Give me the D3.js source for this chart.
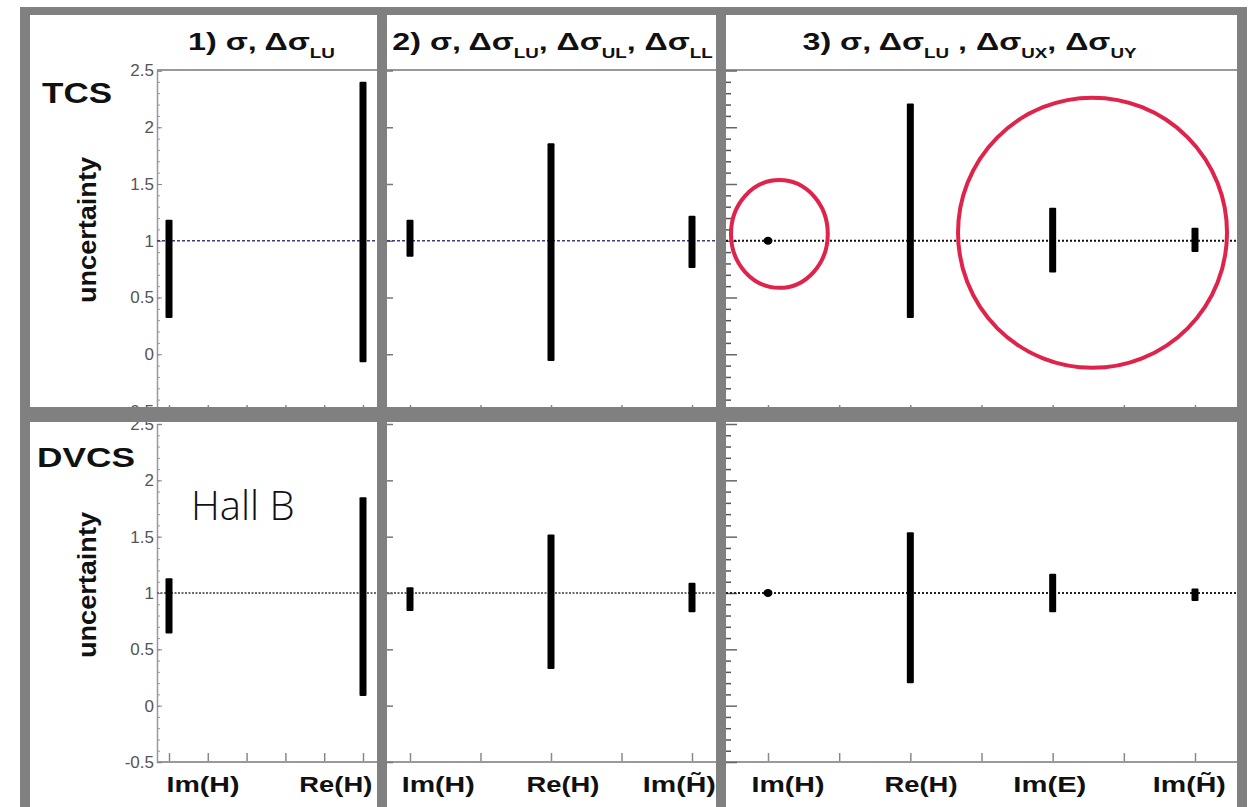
<!DOCTYPE html>
<html>
<head>
<meta charset="utf-8">
<script src="https://cdn.jsdelivr.net/npm/d3@7"></script>
<style>
body { margin: 0; background: #fff; }
svg { display: block; }
text { font-family: "Liberation Sans", Arial, sans-serif; }
</style>
</head>
<body>
<svg id="chart" width="1250" height="807"></svg>
<script>
// categories per panel
var cats1 = ['Im(H)', 'Re(H)'];
var cats2 = ['Im(H)', 'Re(H)', 'Im(H\u0303)'];
var cats3 = ['Im(H)', 'Re(H)', 'Im(E)', 'Im(H\u0303)'];

// TCS: lower / upper end of each uncertainty bar
var tcsLow1 = [0.32, -0.07], tcsHigh1 = [1.185, 2.40];
var tcsLow2 = [0.86, -0.06, 0.76], tcsHigh2 = [1.185, 1.86, 1.22];
var tcsLow3 = [0.99, 0.32, 0.72, 0.90], tcsHigh3 = [1.01, 2.21, 1.29, 1.115];

// DVCS (Hall B)
var dvcsLow1 = [0.64, 0.085], dvcsHigh1 = [1.13, 1.85];
var dvcsLow2 = [0.84, 0.325, 0.83], dvcsHigh2 = [1.05, 1.52, 1.09];
var dvcsLow3 = [0.99, 0.20, 0.83, 0.93], dvcsHigh3 = [1.01, 1.54, 1.17, 1.04];

var yTicks = [-0.5, 0, 0.5, 1, 1.5, 2, 2.5];

// where the category names sit along each axis (in category units)
var labelPos1 = [0.175, 0.86];
var labelPos2 = [0.2, 1.085, 1.91];
var labelPos3 = [0.14, 1.075, 1.98, 2.96];

// panel titles: [text, subscript] pieces
var title1 = [['1) \u03c3, \u0394\u03c3', 'LU']];
var title2 = [['2) \u03c3, \u0394\u03c3', 'LU'], [', \u0394\u03c3', 'UL'], [', \u0394\u03c3', 'LL']];
var title3 = [['3) \u03c3, \u0394\u03c3', 'LU'], [' , \u0394\u03c3', 'UX'], [', \u0394\u03c3', 'UY']];

// red circles in panel 3 (TCS), in data units
var circles = [
  {cx: 0.08, cy: 1.06, rx: 0.34, ry: 0.475},
  {cx: 2.28, cy: 1.07, rx: 0.945, ry: 1.19}
];

var svg = d3.select('#chart');
svg.append('rect').attr('width', 1250).attr('height', 807).attr('fill', '#fff');

var grey = '#808080';

var panels = [
  {cats: cats1, left: 157, right: 377, domain: [0, 1], range: [169, 363], ticks: d3.range(0, 1.01, 0.2), labels: labelPos1, title: title1, tx: 261.5, tw: 147, yaxis: 'labels'},
  {cats: cats2, left: 387, right: 716, domain: [0, 2], range: [410, 692], ticks: d3.range(0, 2.01, 0.5), labels: labelPos2, title: title2, tx: 552.5, tw: 321, yaxis: 'major'},
  {cats: cats3, left: 726, right: 1237, domain: [0, 3], range: [768, 1195], ticks: d3.range(0, 3.01, 0.5), labels: labelPos3, title: title3, tx: 969.5, tw: 335, yaxis: 'minor'}
];
panels.forEach(function(p) {
  p.x = d3.scaleLinear().domain(p.domain).range(p.range);
});

var rows = [
  {name: 'TCS', y: d3.scaleLinear().domain([-0.5, 2.5]).range([411, 70.5]),
   low: [tcsLow1, tcsLow2, tcsLow3], high: [tcsHigh1, tcsHigh2, tcsHigh3],
   refColor: ['#3c3c78', '#3c3c78', '#111'], refDash: ['3,2', '3,2', '2,2'], refWidth: [1.5, 1.5, 2],
   top: 70, bottom: 411, xlabels: false},
  {name: 'DVCS', y: d3.scaleLinear().domain([-0.5, 2.5]).range([762, 424]),
   low: [dvcsLow1, dvcsLow2, dvcsLow3], high: [dvcsHigh1, dvcsHigh2, dvcsHigh3],
   refColor: ['#6a6a6a', '#6a6a6a', '#222'], refDash: ['2,1.5', '2,1.5', '2,2'], refWidth: [2, 2, 2],
   top: 422, bottom: 762, xlabels: true}
];

// stretch a text group horizontally so it fills a given width
function fit(g, cx, w) {
  var bb = g.node().getBBox();
  g.attr('transform', 'translate(' + cx + ',0) scale(' + (w / bb.width) + ',1)');
}

rows.forEach(function(row, ri) {
  var y = row.y;
  panels.forEach(function(p, pi) {
    var g = svg.append('g');
    var x = p.x;

    // frame line at top of plot (title separator)
    if (ri === 0) {
      g.append('line')
        .attr('x1', p.left).attr('x2', p.right)
        .attr('y1', row.top).attr('y2', row.top)
        .attr('stroke', '#999').attr('stroke-width', 2);
    }

    // x axis
    var xa = g.append('g')
      .attr('transform', 'translate(0,' + row.bottom + ')')
      .call(d3.axisTop(x).tickValues(p.ticks).tickSize(ri === 0 ? 6 : 9).tickFormat(''));
    xa.select('.domain').remove();
    xa.selectAll('.tick line').attr('stroke', '#888').attr('stroke-width', 1.5);
    g.append('line')
      .attr('x1', p.left).attr('x2', p.right)
      .attr('y1', row.bottom).attr('y2', row.bottom)
      .attr('stroke', '#999').attr('stroke-width', 2);

    // y axis
    if (p.yaxis === 'labels') {
      var minor = g.append('g').attr('transform', 'translate(' + p.left + ',0)')
        .call(d3.axisLeft(y).tickValues(d3.range(-5, 26).map(function(i) { return i / 10; }))
          .tickSize(-3).tickFormat(''));
      minor.select('.domain').remove();
      minor.selectAll('.tick line').attr('stroke', '#999');
      var ya = g.append('g').attr('transform', 'translate(' + p.left + ',0)')
        .call(d3.axisLeft(y).tickValues(yTicks).tickSize(-5).tickPadding(3)
          .tickFormat(function(d) { return String(d); }));
      ya.select('.domain').attr('stroke', '#999').attr('stroke-width', 1.5);
      ya.selectAll('.tick line').attr('stroke', '#888');
      ya.selectAll('.tick text')
        .attr('fill', '#555').style('font-size', '17px')
        .style('font-family', '"Liberation Sans", Arial, sans-serif');
    } else if (p.yaxis === 'major') {
      var ym = g.append('g').attr('transform', 'translate(' + p.left + ',0)')
        .call(d3.axisLeft(y).tickValues(yTicks).tickSize(-6).tickFormat(''));
      ym.select('.domain').remove();
      ym.selectAll('.tick line').attr('stroke', '#777').attr('stroke-width', 1.5);
    } else {
      var yn = g.append('g').attr('transform', 'translate(' + p.left + ',0)')
        .call(d3.axisLeft(y).tickValues(d3.range(-5, 26).filter(function(i) { return i % 5 !== 0; })
          .map(function(i) { return i / 10; })).tickSize(-5).tickFormat(''));
      yn.select('.domain').remove();
      yn.selectAll('.tick line').attr('stroke', '#555').attr('stroke-width', 1.5);
      var yj = g.append('g').attr('transform', 'translate(' + p.left + ',0)')
        .call(d3.axisLeft(y).tickValues(yTicks).tickSize(-11).tickFormat(''));
      yj.select('.domain').remove();
      yj.selectAll('.tick line').attr('stroke', '#666').attr('stroke-width', 1.5);
    }

    // reference line at 1
    g.append('line')
      .attr('x1', p.left).attr('x2', p.right)
      .attr('y1', y(1)).attr('y2', y(1))
      .attr('stroke', row.refColor[pi])
      .attr('stroke-width', row.refWidth[pi])
      .attr('stroke-dasharray', row.refDash[pi]);

    // uncertainty bars
    var lo = row.low[pi], hi = row.high[pi];
    var data = p.cats.map(function(c, i) { return {i: i, lo: lo[i], hi: hi[i]}; });
    g.selectAll('rect.bar').data(data).enter().append('rect')
      .attr('class', 'bar')
      .attr('x', function(d) { return x(d.i) - 3.5; })
      .attr('width', 7)
      .attr('y', function(d) { return y(d.hi); })
      .attr('height', function(d) { return y(d.lo) - y(d.hi); })
      .attr('rx', 1)
      .attr('fill', '#000');
    g.selectAll('ellipse.dot').data(data.filter(function(d) { return d.hi - d.lo < 0.1; }))
      .enter().append('ellipse')
      .attr('class', 'dot')
      .attr('cx', function(d) { return x(d.i); })
      .attr('cy', function(d) { return y((d.lo + d.hi) / 2); })
      .attr('rx', 4.5).attr('ry', 4)
      .attr('fill', '#000');

    // category labels
    if (row.xlabels) {
      p.cats.forEach(function(c, i) {
        var lg = g.append('g');
        lg.append('text')
          .attr('x', 0).attr('y', 792)
          .attr('text-anchor', 'middle')
          .attr('font-weight', 'bold')
          .style('font-size', '22px')
          .attr('fill', '#111')
          .text(c);
        fit(lg, x(p.labels[i]), 73);
      });
    }

    // titles
    if (ri === 0) {
      var tg = g.append('g');
      var t = tg.append('text').attr('x', 0).attr('y', 50)
        .attr('text-anchor', 'middle').attr('font-weight', 'bold').attr('fill', '#111');
      p.title.forEach(function(piece, j) {
        t.append('tspan').style('font-size', '24px').attr('dy', j === 0 ? 0 : -8).text(piece[0]);
        t.append('tspan').style('font-size', '14px').attr('dy', 8).text(piece[1]);
      });
      fit(tg, p.tx, p.tw);
    }
  });
});

// red annotation circles in TCS panel 3
var x3 = panels[2].x, yt = rows[0].y;
svg.selectAll('ellipse.mark').data(circles).enter().append('ellipse')
  .attr('class', 'mark')
  .attr('cx', function(d) { return x3(d.cx); })
  .attr('cy', function(d) { return yt(d.cy); })
  .attr('rx', function(d) { return x3(d.rx) - x3(0); })
  .attr('ry', function(d) { return yt(0) - yt(d.ry); })
  .attr('fill', 'none')
  .attr('stroke', '#e0234b')
  .attr('stroke-width', 4);

// row names and axis titles
function bigLabel(txt, cx, base, size, w) {
  var g = svg.append('g');
  g.append('text').attr('x', 0).attr('y', base)
    .attr('text-anchor', 'middle').attr('font-weight', 'bold')
    .style('font-size', size + 'px').attr('fill', '#111').text(txt);
  fit(g, cx, w);
}
bigLabel('TCS', 77, 103, 29, 70);
bigLabel('DVCS', 86, 467, 28, 98);

[230, 585].forEach(function(cy) {
  var g = svg.append('g').attr('transform', 'translate(96,' + cy + ') rotate(-90)');
  var t = g.append('text').attr('x', 0).attr('y', 0)
    .attr('text-anchor', 'middle').attr('font-weight', 'bold')
    .style('font-size', '25px').attr('fill', '#111').text('uncertainty');
  var w = t.node().getComputedTextLength();
  t.attr('transform', 'scale(' + (146 / w) + ',1)');
});

svg.append('text')
  .attr('x', 191).attr('y', 520)
  .style('font-family', '"Open Sans", sans-serif')
  .style('font-size', '40px')
  .attr('font-weight', 300)
  .attr('fill', '#111')
  .text('Hall B');

// grey frame drawn last
var frame = svg.append('g').attr('fill', grey);
frame.append('rect').attr('x', 20).attr('y', 7).attr('width', 1227).attr('height', 8);
frame.append('rect').attr('x', 20).attr('y', 407).attr('width', 1227).attr('height', 15);
[20, 377, 716, 1237].forEach(function(xx) {
  frame.append('rect').attr('x', xx).attr('y', 7).attr('width', 10).attr('height', 800);
});
</script>
</body>
</html>
